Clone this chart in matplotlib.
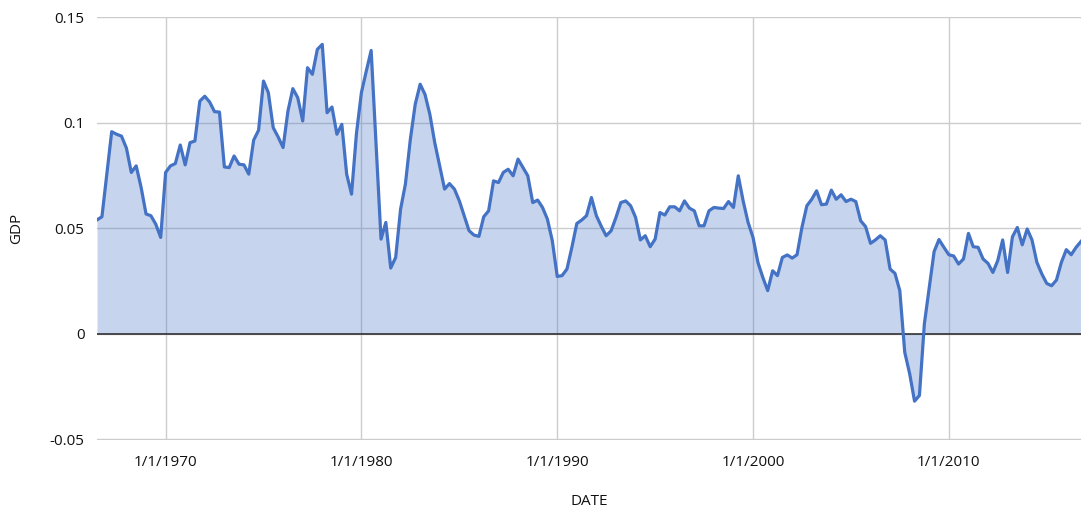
import numpy as np
import pandas as pd
import matplotlib
matplotlib.use("Agg")
import matplotlib.pyplot as plt

plt.rcParams['font.family'] = ['Open Sans', 'DejaVu Sans']

# quarterly values, 1966Q3 .. 2016Q4
start_date = '1966-07-01'
gdp = [
    0.054, 0.0555, 0.0757, 0.0958, 0.0946, 0.0937, 0.088, 0.0765, 0.0796, 0.0694,
    0.0568, 0.056, 0.052, 0.0457, 0.0765, 0.0796, 0.0807, 0.0895, 0.0801, 0.0906,
    0.0914, 0.1103, 0.1126, 0.1099, 0.1053, 0.1051, 0.0791, 0.0788, 0.0843, 0.0804,
    0.0801, 0.0757, 0.0918, 0.0965, 0.1198, 0.1143, 0.0977, 0.0933, 0.0883, 0.1056,
    0.1162, 0.1119, 0.1009, 0.1261, 0.123, 0.1348, 0.1372, 0.1048, 0.1075, 0.0946,
    0.0993, 0.0757, 0.0662, 0.095, 0.1143, 0.1245, 0.1343, 0.09, 0.0449, 0.0528,
    0.0312, 0.0362, 0.0591, 0.071, 0.092, 0.1088, 0.1183, 0.1135, 0.104, 0.0905,
    0.0795, 0.0686, 0.0712, 0.0686, 0.063, 0.056, 0.0489, 0.0468, 0.0462, 0.0555,
    0.0583, 0.0725, 0.0717, 0.0765, 0.078, 0.0749, 0.0828, 0.0788, 0.0749, 0.0622,
    0.0634, 0.0599, 0.0544, 0.0441, 0.0272, 0.0276, 0.0307, 0.041, 0.0523, 0.0539,
    0.056, 0.0646, 0.056, 0.051, 0.0465, 0.0488, 0.0552, 0.0622, 0.063, 0.0607,
    0.0552, 0.0445, 0.0465, 0.0413, 0.0449, 0.0575, 0.0563, 0.0602, 0.0602, 0.0583,
    0.063, 0.0596, 0.0583, 0.0512, 0.0512, 0.0583, 0.0599, 0.0596, 0.0594, 0.0627,
    0.0599, 0.0749, 0.063, 0.0528, 0.0457, 0.0339, 0.0268, 0.0205, 0.0299, 0.0276,
    0.0362, 0.0374, 0.0359, 0.0375, 0.0504, 0.0607, 0.0638, 0.0678, 0.0612, 0.0615,
    0.0681, 0.0638, 0.0659, 0.0627, 0.0638, 0.0627, 0.0536, 0.0508, 0.0429, 0.0445,
    0.0465, 0.0445, 0.0307, 0.0287, 0.0205, -0.0087, -0.0189, -0.0319, -0.0292, 0.0047,
    0.022, 0.039, 0.0447, 0.041, 0.0375, 0.0369, 0.0331, 0.0355, 0.0476, 0.0413,
    0.041, 0.0355, 0.0334, 0.0291, 0.0347, 0.0445, 0.0291, 0.046, 0.0504, 0.0422,
    0.0497, 0.0445, 0.0339, 0.0284, 0.0239, 0.0228, 0.0255, 0.0339, 0.0399, 0.0375,
    0.041, 0.0438,
]
dates = pd.date_range(start_date, periods=len(gdp), freq='QS')

tick_years = [1970, 1980, 1990, 2000, 2010]
y_ticks = [-0.05, 0, 0.05, 0.1, 0.15]
y_labels = ['-0.05', '0', '0.05', '0.1', '0.15']

line_c = '#4472C4'
txt_c = '#111111'

fig = plt.figure(figsize=(10.81, 5.08), dpi=100)
ax = fig.add_axes([97/1081, 68/508, 984/1081, 423.3/508])

ax.fill_between(dates, gdp, 0, color=line_c, alpha=0.3, linewidth=0)
ax.plot(dates, gdp, color=line_c, linewidth=2.3, zorder=3)

ax.set_xlim(dates[0], dates[-1])
ax.set_ylim(-0.0503, 0.1503)

ticks = [pd.Timestamp(f'{y}-01-01') for y in tick_years]
ax.set_xticks(ticks)
ax.set_xticklabels([f'1/1/{y}' for y in tick_years])
ax.set_yticks(y_ticks)
ax.set_yticklabels(y_labels)

ax.grid(True, color='#cccccc', linewidth=1)
ax.set_axisbelow(True)
ax.axhline(0, color='#333333', linewidth=1.2, zorder=2)

for s in ax.spines.values():
    s.set_visible(False)
ax.tick_params(length=0, labelsize=11, colors=txt_c)
ax.tick_params(axis='x', pad=11)
ax.tick_params(axis='y', pad=9)

ax.set_xlabel('DATE', fontsize=11, color=txt_c)
ax.set_ylabel('GDP', fontsize=11, color=txt_c)
ax.xaxis.set_label_coords(0.5, -0.128)
ax.yaxis.set_label_coords(-0.074, 0.5)

fig.savefig('out.png', dpi=100)
